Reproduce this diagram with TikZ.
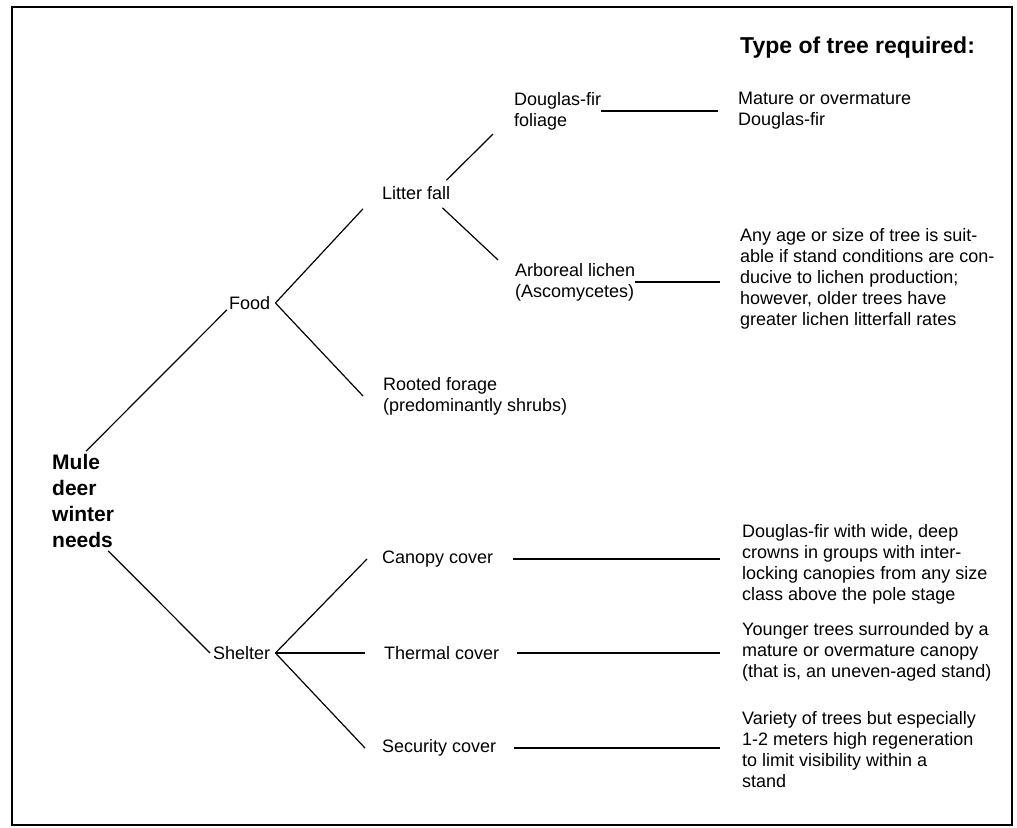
\documentclass[tikz,border=0pt]{standalone}
\usepackage{fontspec}
\setmainfont{Liberation Sans}
\usepackage{tikz}
\tikzset{
    item-label/.style = {anchor=west, inner sep=0pt, align=left, font=\fontsize{18}{21}\selectfont},
    root-label/.style = {anchor=west, inner sep=0pt, align=left, font=\fontsize{21}{26}\selectfont\bfseries},
    head-label/.style = {anchor=west, inner sep=0pt, font=\fontsize{23}{26}\selectfont\bfseries},
    branch/.style = {line width=1.2pt},
}

\begin{document}
\begin{tikzpicture}[x=1pt, y=-1pt]
\useasboundingbox (0,0) rectangle (1017,827);
\draw[line width=1.6pt] (12,7) rectangle (1012,825);

\node[head-label] (head) at (740,48) {Type of tree required:};

% tree
\node[root-label] (mule) at (52,501) {Mule\\deer\\winter\\needs};
\node[item-label] (food) at (229,303) {Food};
\node[item-label] (shelter) at (213,653) {Shelter};
\node[item-label] (litter) at (382,193) {Litter fall};
\node[item-label] (rooted) at (383,396) {Rooted forage\\(predominantly shrubs)};
\node[item-label] (dfol) at (514,111) {Douglas-fir\\foliage};
\node[item-label] (arb) at (515,282) {Arboreal lichen\\(Ascomycetes)};
\node[item-label] (canopy) at (382,559) {Canopy cover};
\node[item-label] (thermal) at (384,653) {Thermal cover};
\node[item-label] (security) at (382,748) {Security cover};

% tree types
\node[item-label] (mature) at (738,111) {Mature or overmature\\Douglas-fir};
\node[item-label] (lichen-desc) at (740,279) {Any age or size of tree is suit-\\able if stand conditions are con-\\ducive to lichen production;\\however, older trees have\\greater lichen litterfall rates};
\node[item-label] (canopy-desc) at (742,564) {Douglas-fir with wide, deep\\crowns in groups with inter-\\locking canopies from any size\\class above the pole stage};
\node[item-label] (thermal-desc) at (742,652) {Younger trees surrounded by a\\mature or overmature canopy\\(that is, an uneven-aged stand)};
\node[item-label] (security-desc) at (742,750) {Variety of trees but especially\\1-2 meters high regeneration\\to limit visibility within a\\stand};

% branches
\draw[branch] ([xshift=3pt,yshift=3pt]mule.north) -- ([xshift=-2pt]food.south west);
\draw[branch] ([xshift=-6pt,yshift=-3pt]mule.south east) -- ([xshift=-3pt]shelter.west);
\draw[branch] ([xshift=5pt]food.east) -- ([xshift=-19pt,yshift=-9pt]litter.south west);
\draw[branch] ([xshift=5pt]food.east) -- ([xshift=-20pt]rooted.west);
\draw[branch] ([xshift=-4pt,yshift=6pt]litter.north east) -- ([xshift=-21pt,yshift=-4pt]dfol.south west);
\draw[branch] ([xshift=-8pt,yshift=-8pt]litter.south east) -- ([xshift=-17pt,yshift=3pt]arb.north west);
\draw[branch] ([xshift=5pt]shelter.east) -- ([xshift=-15pt]canopy.west);
\draw[branch] ([xshift=5pt]shelter.east) -- ([xshift=-19pt]thermal.west);
\draw[branch] ([xshift=5pt]shelter.east) -- ([xshift=-17pt]security.west);

% leaders
\draw[branch] (dfol.east) -- ([xshift=-20pt]mature.west);
\draw[branch] (arb.east) -- ([xshift=-20pt]arb.east -| lichen-desc.west);
\draw[branch] ([xshift=20pt]canopy.east) -- ([xshift=-22pt]canopy.east -| canopy-desc.west);
\draw[branch] ([xshift=18pt]thermal.east) -- ([xshift=-22pt]thermal.east -| thermal-desc.west);
\draw[branch] ([xshift=18pt]security.east) -- ([xshift=-22pt]security.east -| security-desc.west);
\end{tikzpicture}
\end{document}
